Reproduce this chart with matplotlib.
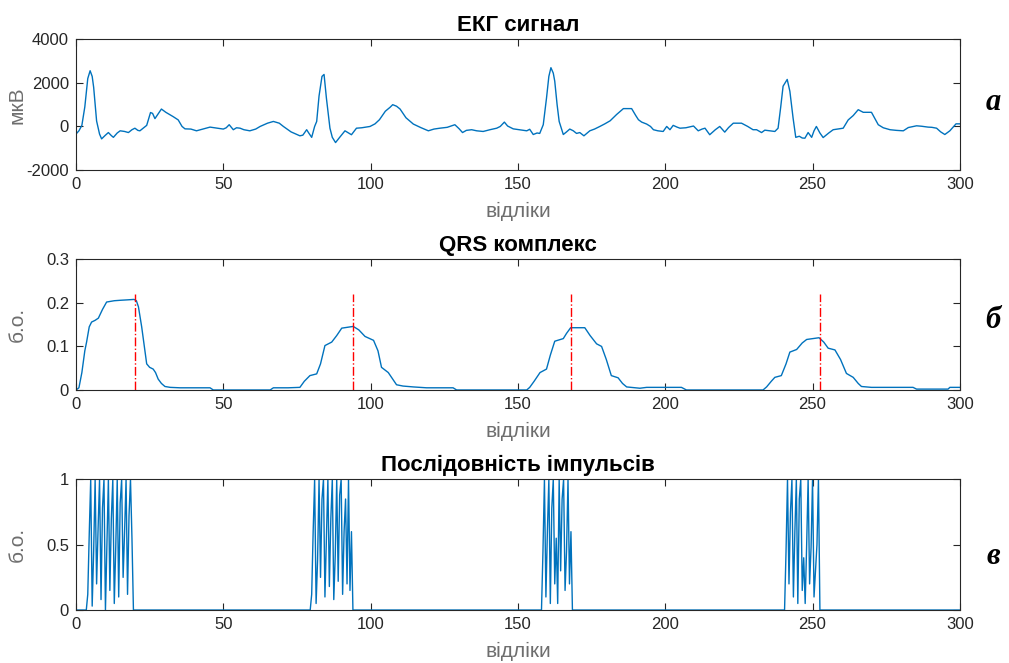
import numpy as np
import matplotlib
matplotlib.use("Agg")
from matplotlib import pyplot as plt

plt.rcParams["font.family"] = ["Liberation Sans", "DejaVu Sans"]
plt.rcParams["axes.unicode_minus"] = False

# ECG signal (samples, microvolts)
ecg_x = [0, 1, 2, 3, 4, 4.8, 5.5, 6, 7, 8,
         8.7, 10, 11, 12, 12.7, 14, 15, 16.5, 17.8, 19,
         20, 21, 21.7, 23, 24, 25.3, 26, 26.8, 28, 29,
         30.5, 31.9, 33, 34.7, 36, 37, 39, 40.9, 43, 45.5,
         48, 50, 51, 52, 53.4, 54.5, 55.7, 57, 59, 61,
         62.5, 65, 67, 69, 70.4, 73, 76, 77, 78.3, 79,
         80, 81, 81.7, 82.5, 83.5, 84.2, 85, 86.2, 87, 88.1,
         89.5, 91.3, 92.5, 93.5, 95.2, 97, 99.8, 101.5, 103, 105,
         106.6, 107.5, 108.8, 110, 112, 114.5, 117, 119.6, 121.5, 123.5,
         126, 128.6, 130, 131.2, 132.5, 134.3, 136, 138.2, 140.5, 142.8,
         144, 145.4, 146.5, 148.4, 150.5, 153, 154, 155.2, 156.5, 157.4,
         158.6, 159.7, 160.5, 161.2, 162, 162.5, 163.3, 164, 165.4, 166.5,
         167.6, 168.8, 169.9, 171, 172.4, 174.4, 176, 177.8, 179.5, 181.3,
         183.5, 185.8, 188.6, 190, 190.9, 192, 193.7, 195, 196, 197.5,
         199.3, 200.5, 201.6, 202.7, 204, 205, 207, 209.6, 211.2, 212.5,
         213.5, 215.1, 217, 218.5, 220.2, 221.5, 223.1, 225.9, 228, 229.8,
         231, 232.7, 233.8, 235.5, 237.2, 238.3, 239.2, 240, 241.4, 242.3,
         243.4, 244.3, 245.5, 246.5, 247.4, 248.5, 249.7, 250.5, 251.3, 252.5,
         253.6, 255.5, 257, 258.5, 260.4, 262.1, 263.8, 265.5, 267.2, 270,
         271.2, 272.3, 274, 276.3, 278.5, 280.8, 282.5, 285.3, 287, 289.2,
         290.5, 292.1, 293.5, 294.9, 296.6, 298.7, 300]
ecg_y = [-350, -200, 50, 900, 2200, 2560, 2300, 1800, 250, -350,
         -570, -400, -280, -420, -500, -300, -200, -230, -280, -150,
         -80, -180, -200, -60, 50, 640, 600, 360, 600, 800,
         650, 540, 450, 300, 0, -110, -120, -200, -120, -30,
         -80, -120, -60, 80, -150, -60, -80, -150, -200, -120,
         0, 150, 230, 150, 0, -250, -430, -400, -150, -300,
         -500, 0, 230, 1400, 2300, 2390, 1300, -80, -500, -740,
         -500, -200, -300, -380, -80, -60, 0, 120, 310, 700,
         880, 1000, 930, 800, 400, 110, -50, -200, -120, -80,
         -40, 80, -100, -280, -180, -150, -200, -230, -150, -80,
         0, 200, 20, -110, -150, -200, -130, -370, -300, -320,
         80, 1300, 2300, 2700, 2450, 2080, 1000, 230, -370, -250,
         -120, -200, -320, -280, -430, -200, -120, 0, 120, 260,
         550, 820, 820, 500, 310, 200, 110, 0, -150, -200,
         -230, 0, -150, 50, -30, -80, -60, 20, -200, -120,
         -80, -380, -150, 0, -260, -50, 150, 150, 0, -150,
         -150, -280, -170, -200, -230, -80, 900, 1850, 2160, 1620,
         380, -500, -450, -530, -540, -280, -500, -200, 0, -300,
         -510, -300, -150, -120, -80, 300, 500, 770, 650, 650,
         350, 80, -60, -150, -180, -200, -50, 30, 10, -30,
         -40, -80, -250, -370, -200, 120, 120]

# QRS envelope (relative units)
qrs_x = [0, 1, 2, 3, 3.6, 4.5, 5.3, 6.5, 7.6, 9,
         10.4, 13, 15, 17.5, 19.7, 20.5, 21.2, 22.3, 23.2, 24,
         25, 26.2, 27, 27.9, 29, 30.2, 32, 35.3, 40, 45.5,
         46.6, 55, 65.9, 67, 72, 76, 77.5, 79.4, 81.7, 83,
         84.5, 86.8, 88.5, 90.2, 94.1, 96, 98.1, 101, 102.5, 103.7,
         106, 108.8, 111, 114.5, 119, 128, 129.2, 140, 153, 154,
         155.5, 157.5, 159.7, 161, 162.5, 165.4, 166.5, 167.9, 172.7, 174.5,
         176.7, 178.4, 180, 181.7, 184, 185.5, 186.9, 191.4, 193.7, 205.5,
         207.2, 220, 233.2, 234.4, 236, 237.2, 239.4, 241, 242.3, 244.6,
         246.5, 248, 252.2, 253.8, 255.3, 257.6, 259.5, 261.5, 263.8, 265.5,
         266.6, 270, 284.1, 285.3, 296, 296.6, 300]
qrs_y = [0, 0.005, 0.04, 0.09, 0.11, 0.145, 0.156, 0.16, 0.165, 0.185,
         0.202, 0.205, 0.206, 0.207, 0.208, 0.205, 0.191, 0.145, 0.1, 0.06,
         0.052, 0.048, 0.04, 0.025, 0.015, 0.008, 0.006, 0.005, 0.005, 0.005,
         0.0, 0.0, 0.0, 0.005, 0.005, 0.006, 0.02, 0.033, 0.037, 0.06,
         0.102, 0.11, 0.125, 0.142, 0.146, 0.138, 0.123, 0.114, 0.09, 0.052,
         0.04, 0.012, 0.009, 0.007, 0.005, 0.005, 0.0, 0.0, 0.0, 0.006,
         0.02, 0.04, 0.048, 0.08, 0.112, 0.118, 0.13, 0.143, 0.143, 0.125,
         0.106, 0.1, 0.07, 0.033, 0.028, 0.015, 0.007, 0.004, 0.006, 0.006,
         0.0, 0.0, 0.0, 0.007, 0.02, 0.029, 0.033, 0.06, 0.087, 0.093,
         0.108, 0.116, 0.12, 0.11, 0.096, 0.092, 0.07, 0.038, 0.029, 0.015,
         0.008, 0.006, 0.006, 0.002, 0.002, 0.006, 0.006]

# detected R positions (red dash-dot markers)
r_peaks = [20, 94, 168, 252.5]
r_height = 0.22

# pulse bursts, half-sample resolution
pulse_step = 0.5
burst_starts = [3.5, 79.5, 158, 240.5]
burst_1 = [0, 0.12, 0.58, 1, 0.03, 0.45, 1, 0.2, 0.62, 1, 0.08, 0.78, 1, 0, 0.5, 1,
           0.15, 0.7, 1, 0.05, 0.48, 1, 0.1, 0.82, 1, 0.25, 0.6, 1, 0.12, 0.72,
           1, 0.55, 0]
burst_2 = [0, 0.12, 0.6, 1, 0.05, 0.38, 1, 0.25, 0.85, 1, 0.1, 0.55, 1, 0.18, 0.7,
           1, 0.08, 0.42, 1, 0.22, 0.88, 1, 0.12, 0.6, 0.85, 0.2, 1, 0.15, 0.6, 0]
burst_3 = [0, 0.45, 1, 0.1, 0.6, 1, 0.05, 0.78, 1, 0.2, 0.55, 0.05, 1, 0.3, 0.85,
           1, 0.15, 0.45, 1, 0.2, 0.6, 0]
burst_4 = [0, 0.45, 1, 0.2, 0.75, 1, 0.1, 0.6, 1, 0.05, 0.85, 1, 0.15, 0.4, 0.05,
           0.5, 1, 0.2, 0.48, 1, 0.1, 0.3, 0.5, 1, 0]
bursts = [burst_1, burst_2, burst_3, burst_4]

pulse_x = np.arange(0, 300 + pulse_step, pulse_step)
pulse_y = np.zeros_like(pulse_x)
for start, burst in zip(burst_starts, bursts):
    i0 = int(round(start / pulse_step))
    pulse_y[i0:i0 + len(burst)] = burst

LINE = "#0072BD"
AXC = "#262626"
LABC = "#6e6e6e"

fig = plt.figure(figsize=(10.09, 6.63), dpi=100)
left, width, height = 0.0753, 0.876, 0.197
ax1 = fig.add_axes([left, 0.7436, width, height])
ax2 = fig.add_axes([left, 0.4118, width, height])
ax3 = fig.add_axes([left, 0.0799, width, height])


def style(ax, title, ylabel, yticks):
    ax.set_xlim(0, 300)
    ax.set_xticks(range(0, 301, 50))
    ax.set_yticks(yticks)
    ax.set_ylim(yticks[0], yticks[-1])
    ax.tick_params(direction="in", top=True, right=True, length=5,
                   width=0.8, colors=AXC, labelsize=12, pad=5)
    for sp in ax.spines.values():
        sp.set_color(AXC)
        sp.set_linewidth(0.8)
    ax.set_title(title, fontsize=16, fontweight="bold", pad=6)
    ax.set_xlabel("відліки", fontsize=15, color=LABC, labelpad=7)
    ax.set_ylabel(ylabel, fontsize=15, color=LABC)
    ax.yaxis.set_label_coords(-0.056, 0.5)


ax1.plot(ecg_x, ecg_y, color=LINE, lw=1.0)
style(ax1, "ЕКГ сигнал", "мкВ", [-2000, 0, 2000, 4000])

ax2.plot(qrs_x, qrs_y, color=LINE, lw=1.0)
for xr in r_peaks:
    ax2.plot([xr, xr], [0, r_height], color="red", lw=1.0, linestyle="-.")
style(ax2, "QRS комплекс", "б.о.", [0, 0.1, 0.2, 0.3])
ax2.set_yticklabels(["0", "0.1", "0.2", "0.3"])

ax3.plot(pulse_x, pulse_y, color=LINE, lw=1.0)
style(ax3, "Послідовність імпульсів", "б.о.", [0, 0.5, 1])
ax3.set_yticklabels(["0", "0.5", "1"])

for ytxt, letter in [(0.845, "а"), (0.517, "б"), (0.16, "в")]:
    fig.text(0.984, ytxt, letter, fontsize=22, fontweight="bold", fontstyle="italic",
             family=["Liberation Serif", "DejaVu Serif"], ha="center", va="center")

fig.savefig("out.png", dpi=100)
